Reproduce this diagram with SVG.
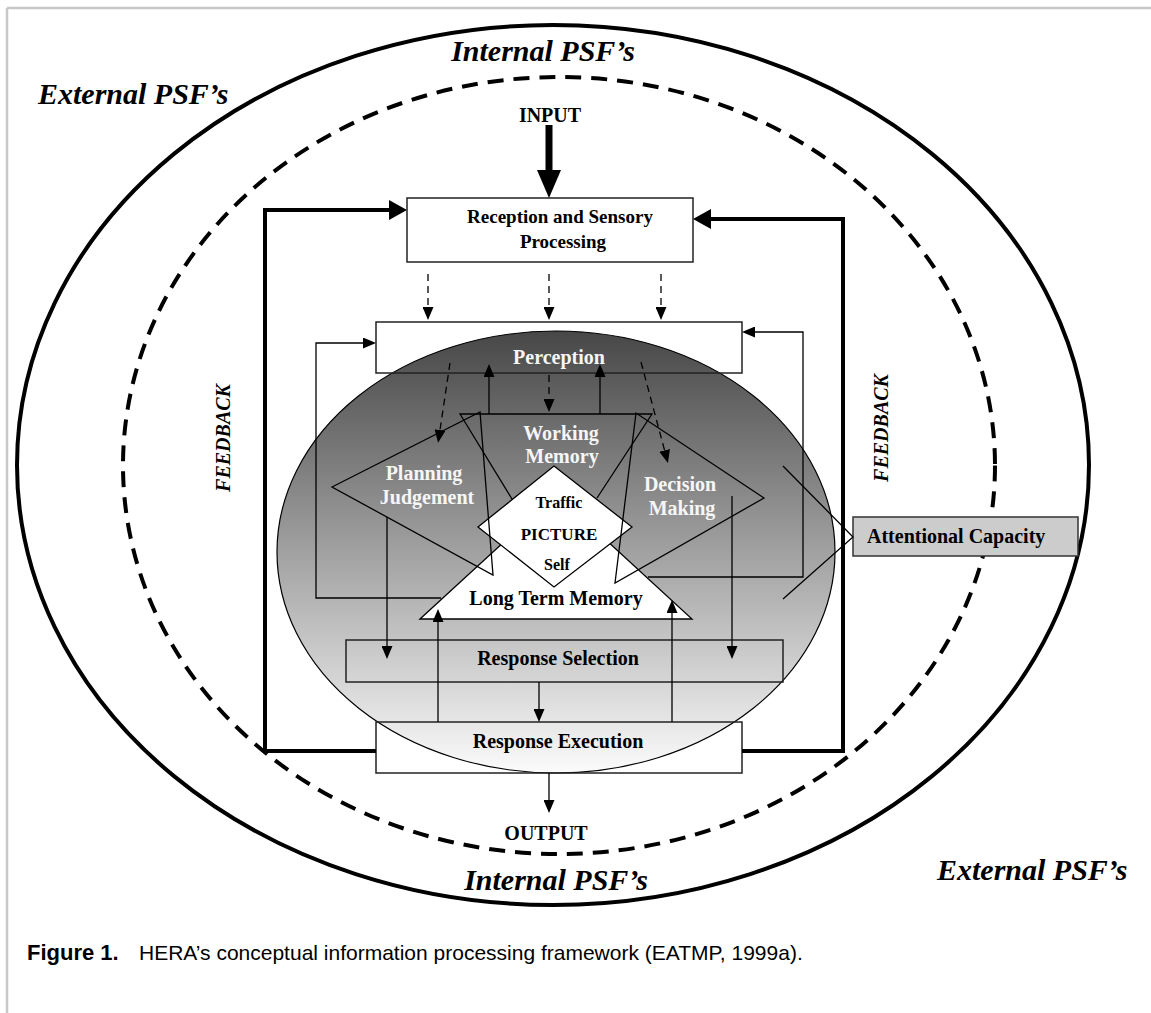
<svg xmlns="http://www.w3.org/2000/svg" width="1151" height="1013" viewBox="0 0 1151 1013">
<defs>
  <linearGradient id="shade" x1="0" y1="0" x2="0" y2="1">
    <stop offset="0" stop-color="#474747"/>
    <stop offset="1" stop-color="#fbfbfb"/>
  </linearGradient>
  <marker id="a" markerUnits="userSpaceOnUse" markerWidth="13" markerHeight="11" refX="0" refY="5.5" orient="auto">
    <path d="M0,0 L13,5.5 L0,11 z" fill="#000"/>
  </marker>
  <marker id="at" markerUnits="userSpaceOnUse" markerWidth="18" markerHeight="20" refX="0" refY="10" orient="auto">
    <path d="M0,0 L18,10 L0,20 z" fill="#000"/>
  </marker>
  <marker id="ai" markerUnits="userSpaceOnUse" markerWidth="28" markerHeight="24" refX="0" refY="12" orient="auto">
    <path d="M0,0 L28,12 L0,24 z" fill="#000"/>
  </marker>
</defs>
<style>
  .t{font-family:"Liberation Serif","Times New Roman",serif;font-weight:bold;text-anchor:middle;fill:#000}
  .s{text-anchor:start}
  .w{fill:#f6f6f6}
  .psf{font-family:"Liberation Serif","Times New Roman",serif;font-weight:bold;font-style:italic;font-size:30px;fill:#000}
  .fb{font-family:"Liberation Serif","Times New Roman",serif;font-weight:bold;font-style:italic;font-size:20px;text-anchor:middle}
  .box{fill:none;stroke:#222;stroke-width:1.5}
  .ln{fill:none;stroke:#000;stroke-width:1.3}
  .dl{stroke-dasharray:7 5}
  .thick{fill:none;stroke:#000;stroke-width:4}
  .cap{font-family:"Liberation Sans",Arial,sans-serif;font-size:21px;fill:#000}
</style>
<rect x="0" y="0" width="1151" height="1013" fill="#fff"/>
<g id="frame" stroke="#c8c8c8" stroke-width="2.5" fill="none">
  <line x1="7" y1="8" x2="1151" y2="8"/>
  <line x1="7" y1="8" x2="7" y2="1013"/>
</g>
<g id="external-psf-boundary">
  <ellipse cx="553" cy="465" rx="536" ry="440" fill="none" stroke="#000" stroke-width="4"/>
</g>
<g id="internal-psf-boundary">
  <ellipse cx="559" cy="465.5" rx="436" ry="388.5" fill="none" stroke="#000" stroke-width="4" stroke-dasharray="16 10"/>
</g>
<g id="cognition">
  <ellipse cx="556" cy="552" rx="279" ry="221" fill="url(#shade)" stroke="#000" stroke-width="1.2"/>
</g>
<g id="long-term-memory">
  <polygon points="420,619 556,494 692,619" fill="#fff" stroke="#000" stroke-width="1.3"/>
</g>
<g id="picture">
  <polygon points="554,466 632,527 554,587 478,527" fill="#fff" stroke="#000" stroke-width="1.3"/>
</g>
<g id="working-memory">
  <polyline class="ln" points="512,499 460,414 652,414 597,498"/>
</g>
<g id="planning-judgement">
  <polygon class="ln" points="332,487 480,412 493,575"/>
</g>
<g id="decision-making">
  <polygon class="ln" points="764,498 636,413 615,583"/>
</g>
<g id="reception">
  <rect x="407" y="198" width="286" height="64" fill="#fff" stroke="#222" stroke-width="1.5"/>
</g>
<g id="perception">
  <rect class="box" x="376" y="322" width="366" height="51"/>
</g>
<g id="response-selection">
  <rect class="box" x="346" y="640" width="437" height="42"/>
</g>
<g id="response-execution">
  <rect class="box" x="376" y="722" width="366" height="51"/>
</g>
<g id="attentional-capacity">
  <rect x="853" y="517" width="225" height="39" fill="#cccccc" stroke="#333" stroke-width="1.5"/>
</g>
<g id="connectors">
  <line x1="549" y1="125" x2="549" y2="170" stroke="#000" stroke-width="7" marker-end="url(#ai)"/>
  <polyline class="thick" points="376,751 265,751 265,210 389,210" marker-end="url(#at)"/>
  <polyline class="thick" points="742,751 843,751 843,219 711,219" marker-end="url(#at)"/>
  <line class="ln dl" x1="428" y1="274" x2="428" y2="307" marker-end="url(#a)"/>
  <line class="ln dl" x1="549" y1="274" x2="549" y2="307" marker-end="url(#a)"/>
  <line class="ln dl" x1="661" y1="274" x2="661" y2="307" marker-end="url(#a)"/>
  <polyline class="ln" points="441,598 316,598 316,343 363,343" marker-end="url(#a)"/>
  <polyline class="ln" points="648,577 803,577 803,332 755,332" marker-end="url(#a)"/>
  <line class="ln" x1="489" y1="414" x2="489" y2="377" marker-end="url(#a)"/>
  <line class="ln" x1="600" y1="414" x2="600" y2="377" marker-end="url(#a)"/>
  <line class="ln dl" x1="549" y1="375" x2="549" y2="399" marker-end="url(#a)"/>
  <line class="ln dl" x1="450" y1="363" x2="440" y2="430" marker-end="url(#a)"/>
  <line class="ln dl" x1="641" y1="362" x2="664.6" y2="450.4" marker-end="url(#a)"/>
  <line class="ln" x1="387" y1="517" x2="387" y2="646" marker-end="url(#a)"/>
  <line class="ln" x1="732" y1="496" x2="732" y2="646" marker-end="url(#a)"/>
  <line class="ln" x1="438" y1="722" x2="438" y2="622" marker-end="url(#a)"/>
  <line class="ln" x1="672" y1="722" x2="672" y2="613" marker-end="url(#a)"/>
  <line class="ln" x1="539" y1="682" x2="539" y2="709" marker-end="url(#a)"/>
  <line class="ln" x1="549" y1="773" x2="549" y2="800" marker-end="url(#a)"/>
  <polyline class="ln" points="783,466 853,537 783,599"/>
</g>
<g id="labels">
  <text class="psf" x="543" y="61" text-anchor="middle">Internal PSF’s</text>
  <text class="psf" x="38" y="104">External PSF’s</text>
  <text class="psf" x="556" y="890" text-anchor="middle">Internal PSF’s</text>
  <text class="psf" x="937" y="880">External PSF’s</text>
  <text class="t" x="550" y="122" font-size="20">INPUT</text>
  <text class="t" x="546" y="840" font-size="20">OUTPUT</text>
  <text class="fb" transform="translate(223,438) rotate(-90)" y="7">FEEDBACK</text>
  <text class="fb" transform="translate(881,428) rotate(-90)" y="7">FEEDBACK</text>
  <text class="t" x="560" y="223" font-size="19">Reception and Sensory</text>
  <text class="t" x="563" y="248" font-size="19">Processing</text>
  <text class="t w" x="559" y="364" font-size="20">Perception</text>
  <text class="t w" x="561" y="440" font-size="20">Working</text>
  <text class="t w" x="562" y="463" font-size="20">Memory</text>
  <text class="t w" x="424" y="480" font-size="20">Planning</text>
  <text class="t w" x="427" y="504" font-size="20">Judgement</text>
  <text class="t w" x="680" y="491" font-size="20">Decision</text>
  <text class="t w" x="682" y="515" font-size="20">Making</text>
  <text class="t" x="559" y="508" font-size="16">Traffic</text>
  <text class="t" x="559" y="540" font-size="17">PICTURE</text>
  <text class="t" x="557" y="570" font-size="16">Self</text>
  <text class="t" x="556" y="605" font-size="20">Long Term Memory</text>
  <text class="t" x="558" y="665" font-size="20">Response Selection</text>
  <text class="t" x="558" y="748" font-size="20">Response Execution</text>
  <text class="t s" x="867" y="543" font-size="20">Attentional Capacity</text>
  <text class="cap" x="27" y="960"><tspan font-weight="bold" font-size="22">Figure 1.</tspan><tspan x="139">HERA’s conceptual information processing framework (EATMP, 1999a).</tspan></text>
</g>
</svg>
